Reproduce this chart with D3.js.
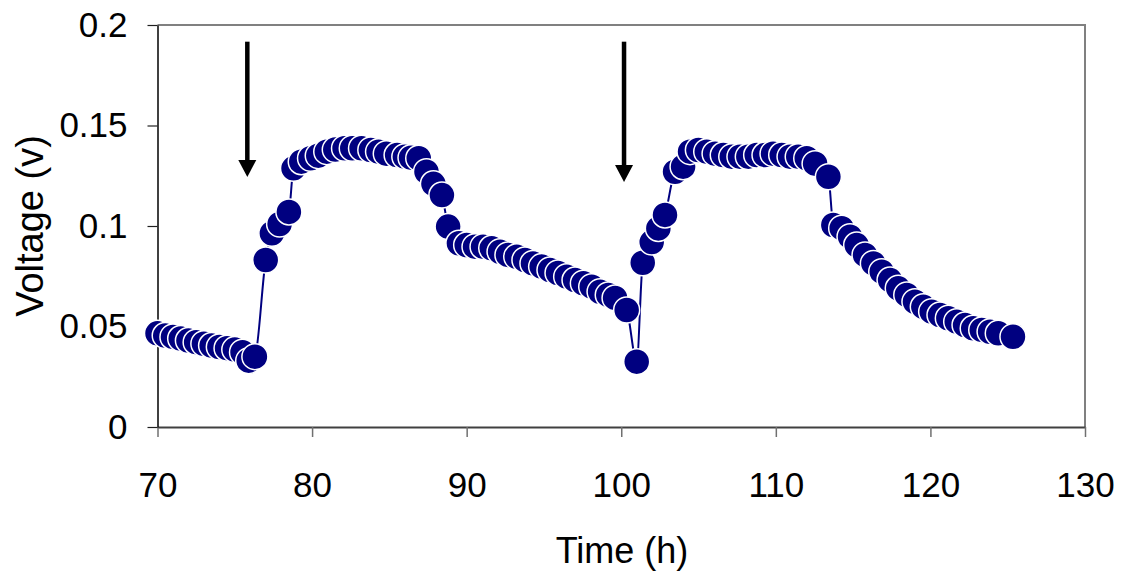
<!DOCTYPE html>
<html>
<head>
<meta charset="utf-8">
<script src="https://cdn.jsdelivr.net/npm/d3@7"></script>
<style>
  body { margin: 0; background: #fff; }
  svg { display: block; font-family: "Liberation Sans", Arial, sans-serif; }
</style>
</head>
<body>
<div id="chart"></div>
<script>
// time (h) of each reading
const timeValues = [
  70.0, 70.5, 71.0, 71.5, 72.0, 72.5, 73.0, 73.5, 74.0, 74.5, 75.0, 75.5, 75.9, 76.3,
  77.0, 77.4, 77.9, 78.5, 78.8, 79.3, 79.9, 80.4, 80.95, 81.5, 82.1, 82.6, 83.2, 83.8,
  84.3, 84.8, 85.5, 86.0, 86.4, 86.9, 87.4, 87.85, 88.4, 88.8, 89.5,
  90.0, 90.54, 91.06, 91.62, 92.16, 92.67, 93.24, 93.77, 94.29, 94.85, 95.39, 95.91,
  96.47, 97.01, 97.55, 98.09, 98.63, 99.16, 99.6, 100.35,
  101.0, 101.39, 101.97, 102.4, 102.83, 103.48, 104.0, 104.45, 104.99, 105.53, 106.07,
  106.6, 107.15, 107.68, 108.22, 108.76, 109.3, 109.82, 110.38, 110.92, 111.45, 112.0,
  112.54, 113.4, 113.72, 114.26, 114.8, 115.23, 115.77, 116.31, 116.85, 117.39, 117.92,
  118.47, 119.0, 119.54, 120.08, 120.62, 121.16, 121.7, 122.24, 122.77, 123.32, 123.86,
  124.39, 125.34
];

// voltage (v) of each reading
const voltValues = [
  0.0466, 0.0455, 0.0448, 0.0440, 0.0430, 0.0422, 0.0414, 0.0405, 0.0398, 0.0392, 0.0385, 0.0372, 0.0330, 0.0350,
  0.0831, 0.0964, 0.1010, 0.1070, 0.1287, 0.1320, 0.1337, 0.1350, 0.1370, 0.1380, 0.1387, 0.1387, 0.1387, 0.1378,
  0.1370, 0.1360, 0.1353, 0.1345, 0.1340, 0.1337, 0.1270, 0.1210, 0.1154, 0.0997, 0.0914,
  0.0905, 0.0897, 0.0897, 0.0889, 0.0872, 0.0856, 0.0847, 0.0831, 0.0814, 0.0798, 0.0781, 0.0766,
  0.0748, 0.0731, 0.0715, 0.0698, 0.0673, 0.0657, 0.0642, 0.0582,
  0.0325, 0.0817, 0.0920, 0.0988, 0.1055, 0.1270, 0.1295, 0.1370, 0.1378, 0.1370, 0.1360,
  0.1353, 0.1345, 0.1345, 0.1345, 0.1353, 0.1353, 0.1360, 0.1353, 0.1345, 0.1345, 0.1337,
  0.1310, 0.1245, 0.1005, 0.0989, 0.0947, 0.0905, 0.0856, 0.0814, 0.0773, 0.0731, 0.0690,
  0.0657, 0.0623, 0.0598, 0.0574, 0.0557, 0.0541, 0.0524, 0.0507, 0.0491, 0.0483, 0.0474,
  0.0466, 0.0449
];

const xTicks = [70, 80, 90, 100, 110, 120, 130];
const yTicks = [0, 0.05, 0.1, 0.15, 0.2];

// arrows marking the two events
const arrowTimes = [75.81, 100.18];
const arrowStart = [0.1917, 0.1917];
const arrowTip = [0.1244, 0.1219];

const width = 1126;
const height = 574;

const svg = d3.select('#chart')
  .append('svg')
  .attr('width', width)
  .attr('height', height);

const x = d3.scaleLinear().domain([70, 130]).range([157.5, 1085]);
const y = d3.scaleLinear().domain([0, 0.2]).range([427, 25]);

// frame (top and right)
svg.append('path')
  .attr('d', `M${x(70)},${y(0.2)}H${x(130)}V${y(0)}`)
  .attr('fill', 'none')
  .attr('stroke', '#808080')
  .attr('stroke-width', 2);

const xAxis = svg.append('g')
  .attr('transform', `translate(0,${y(0)})`)
  .call(d3.axisBottom(x).tickValues(xTicks).tickSize(10).tickPadding(35).tickSizeOuter(0));
xAxis.select('.domain').attr('stroke', '#404040').attr('stroke-width', 2);
xAxis.selectAll('.tick line').attr('stroke', '#707070').attr('stroke-width', 1.5);
xAxis.selectAll('text').attr('font-size', 35).attr('fill', '#000')
  .style('font-family', '"Liberation Sans", Arial, sans-serif');

const yAxis = svg.append('g')
  .attr('transform', `translate(${x(70)},0)`)
  .call(d3.axisLeft(y).tickValues(yTicks).tickFormat(d => d3.format('')(+d.toFixed(2))).tickSize(10).tickPadding(20).tickSizeOuter(0));
yAxis.select('.domain').attr('stroke', '#000').attr('stroke-width', 1.5);
yAxis.selectAll('.tick line').attr('stroke', '#202020').attr('stroke-width', 1.2);
yAxis.selectAll('text').attr('font-size', 35).attr('fill', '#000')
  .style('font-family', '"Liberation Sans", Arial, sans-serif');

// axis titles
svg.append('text')
  .attr('x', 622)
  .attr('y', 563)
  .attr('text-anchor', 'middle')
  .attr('font-size', 36)
  .text('Time (h)');

svg.append('text')
  .attr('transform', 'translate(43,226) rotate(-90)')
  .attr('text-anchor', 'middle')
  .attr('font-size', 38)
  .text('Voltage (v)');

const points = timeValues.map((t, i) => ({ t: t, v: voltValues[i] }));

const line = d3.line()
  .x(d => x(d.t))
  .y(d => y(d.v))
  .curve(d3.curveMonotoneX);

svg.append('path')
  .datum(points)
  .attr('d', line)
  .attr('fill', 'none')
  .attr('stroke', '#000080')
  .attr('stroke-width', 2);

svg.append('g')
  .selectAll('circle')
  .data(points)
  .enter()
  .append('circle')
  .attr('cx', d => x(d.t))
  .attr('cy', d => y(d.v))
  .attr('r', 13)
  .attr('fill', '#000080')
  .attr('stroke', '#fff')
  .attr('stroke-width', 1.5);

// arrows
const arrows = svg.append('g');
arrowTimes.forEach((t, i) => {
  const ax = x(t);
  const y0 = y(arrowStart[i]);
  const y1 = y(arrowTip[i]);
  arrows.append('line')
    .attr('x1', ax).attr('x2', ax)
    .attr('y1', y0).attr('y2', y1 - 14)
    .attr('stroke', '#000')
    .attr('stroke-width', 4.5);
  arrows.append('path')
    .attr('d', `M${ax - 9},${y1 - 17}L${ax + 9},${y1 - 17}L${ax},${y1}Z`)
    .attr('fill', '#000');
});
</script>
</body>
</html>
